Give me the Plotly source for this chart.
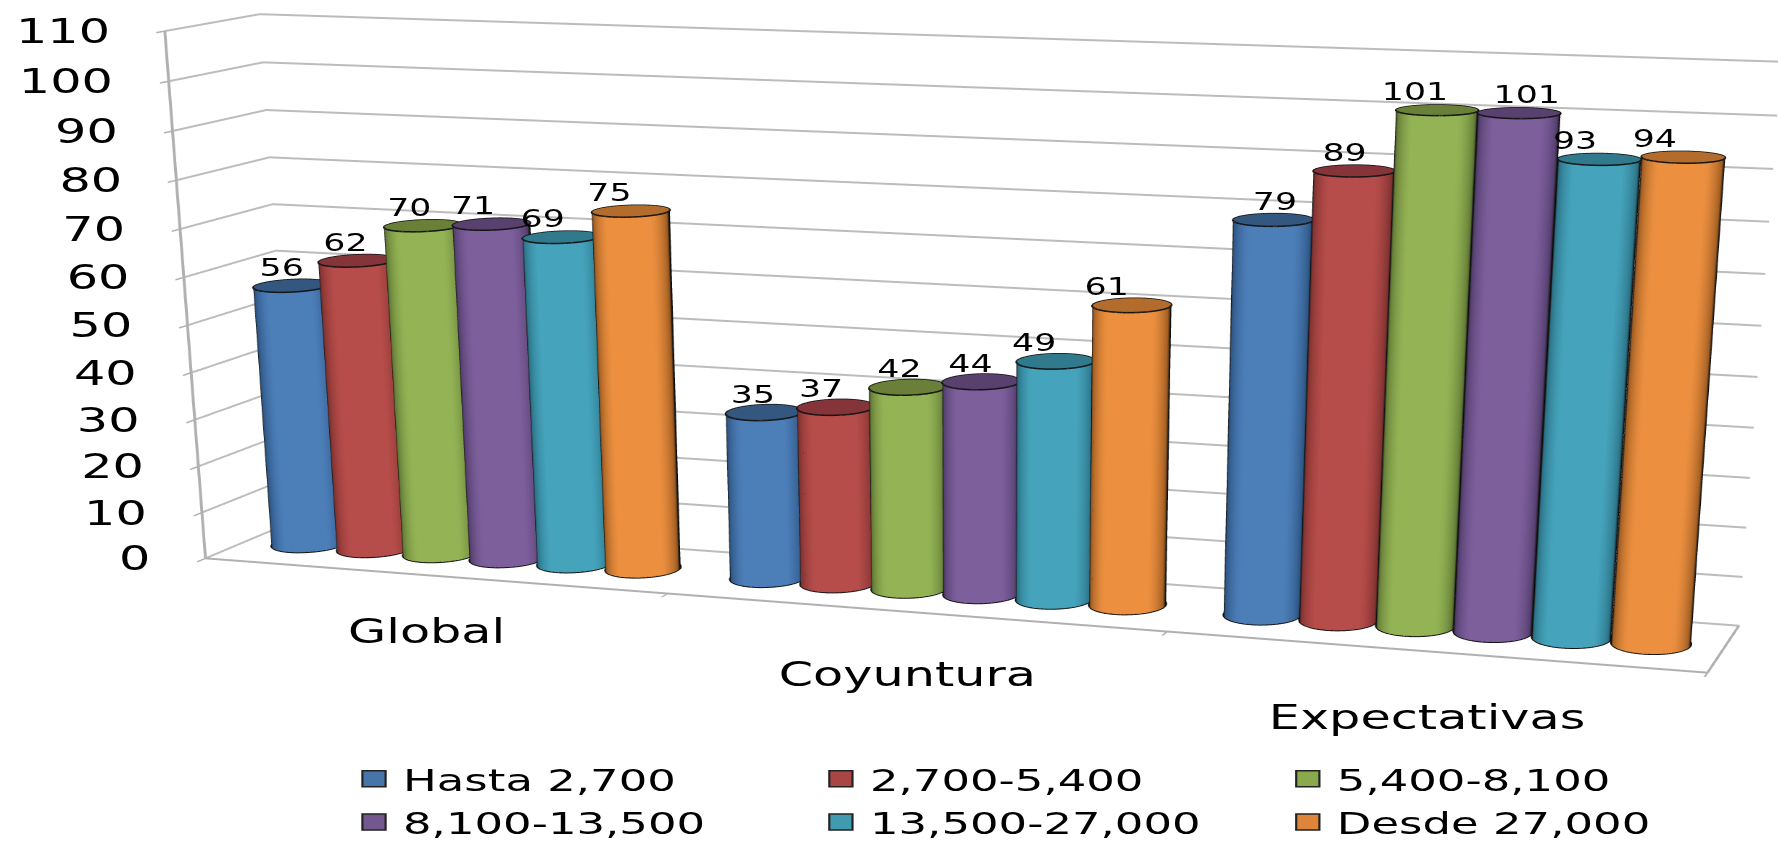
import numpy as np
import plotly.graph_objects as go

# Chart data
CATEGORIES = ["Global", "Coyuntura", "Expectativas"]
SERIES = ["Hasta 2,700", "2,700-5,400", "5,400-8,100", "8,100-13,500", "13,500-27,000", "Desde 27,000"]
HASTA_2700 = [56, 35, 79]
DE_2700_5400 = [62, 37, 89]
DE_5400_8100 = [70, 42, 101]
DE_8100_13500 = [71, 44, 101]
DE_13500_27000 = [69, 49, 93]
DESDE_27000 = [75, 61, 94]
VALUES = [HASTA_2700, DE_2700_5400, DE_5400_8100, DE_8100_13500, DE_13500_27000, DESDE_27000]
Z_TICKS = list(range(0, 111, 10))

# Colours: face highlight, face edge, cap
FACE = ["#4c7eb8", "#b64d4a", "#94b355", "#7d5f9c", "#45a4bc", "#ec9040"]
EDGE = ["#2c5482", "#7e312f", "#5f7734", "#513c6b", "#2a6f83", "#9c5a20"]
CAP = ["#33577f", "#85343a", "#6a8038", "#58406f", "#31798d", "#b36c2c"]
SWATCH = ["#4774a9", "#a74643", "#8aa84c", "#73588f", "#409ab0", "#dc853b"]

# Page layout: the figure is laid out wider and taller than the window, then placed with CSS
STRETCH = 1.45
FIG_W = 1360
FIG_H = 2357
OFFSET_Y = 757
SIDE_MARGIN = 80

# Scene proportions and view
ASPECT = dict(x=3.0, y=0.38, z=1.53)
DIST = 7.82
YAW = np.radians(18.3)
TILT = np.radians(15.5)
LOOK = dict(x=0.083, y=0.0, z=-0.265)
EYE = dict(
    x=LOOK["x"] + DIST * np.sin(YAW) * np.cos(TILT),
    y=LOOK["y"] - DIST * np.cos(YAW) * np.cos(TILT),
    z=LOOK["z"] + DIST * np.sin(TILT),
)

BAR_D = 0.147
GROUP_PAD = 0.059
ROUNDNESS = 1.2
# Horizontal nudge of each value label, by series then category
LABEL_SHIFT = [
    [-7, -8, 1],
    [-8, -10, -6],
    [-9, -6, -15],
    [-12, -7, 5],
    [-13, -15, -17],
    [-15, -17, -19],
]
CATEGORY_SHIFT = [-55, -62, -65]
N_SIDES = 64


def page_to_paper(px, py):
    plot_w = FIG_W - 2 * SIDE_MARGIN
    return (px / STRETCH - SIDE_MARGIN) / plot_w, 1 - (py + OFFSET_Y) / FIG_H


def blend(stops, t):
    """Piecewise colour ramp; stops are (position, '#rrggbb')."""
    pos = [p for p, _ in stops]
    rgb = np.array([[int(h[i:i + 2], 16) for i in (1, 3, 5)] for _, h in stops], dtype=float)
    return "rgb({:.0f},{:.0f},{:.0f})".format(*[np.interp(t, pos, rgb[:, k]) for k in range(3)])


fig = go.Figure()
theta = np.linspace(0, 2 * np.pi, N_SIDES + 1)
radius_x = (BAR_D / 2) * 0.98
radius_y = radius_x * ROUNDNESS / ASPECT["y"]
annotations = []

for s, (name, vals) in enumerate(zip(SERIES, VALUES)):
    stops = [(0, "#000000"), (0.2, "#181818"), (0.32, EDGE[s]), (0.82, FACE[s]), (1, FACE[s])]
    xs, ys, zs, colors, ii, jj, kk = [], [], [], [], [], [], []
    rim_x, rim_y, rim_z = [], [], []
    for c, value in enumerate(vals):
        cx = c + GROUP_PAD + BAR_D * (s + 0.5)
        cy = 0.5
        px = cx + radius_x * np.cos(theta)
        py = cy + radius_y * np.sin(theta)

        # Side of the cylinder, shaded by how directly it faces the viewer
        world_x = (cx - 1.5) / 3 * ASPECT["x"]
        to_eye = np.array([EYE["x"] - world_x, EYE["y"]])
        to_eye = to_eye / np.hypot(*to_eye)
        facing = np.clip(np.cos(theta) * to_eye[0] + np.sin(theta) * to_eye[1], 0, 1)
        base = len(xs)
        for a in range(theta.size):
            col = blend(stops, facing[a])
            xs += [px[a], px[a]]
            ys += [py[a], py[a]]
            zs += [0, value]
            colors += [col, col]
        for a in range(N_SIDES):
            p0 = base + 2 * a
            ii += [p0, p0 + 1]
            jj += [p0 + 2, p0 + 2]
            kk += [p0 + 1, p0 + 3]

        # Cap as a triangle fan
        hub = len(xs)
        xs.append(cx)
        ys.append(cy)
        zs.append(value)
        colors.append(CAP[s])
        for a in range(theta.size):
            xs.append(px[a])
            ys.append(py[a])
            zs.append(value)
            colors.append(CAP[s])
        for a in range(N_SIDES):
            ii.append(hub)
            jj.append(hub + 1 + a)
            kk.append(hub + 2 + a)

        # Dark rim lines, top and foot
        rim_x += list(px) + [None] + list(px) + [None]
        rim_y += list(py) + [None] + list(py) + [None]
        rim_z += [value] * theta.size + [None] + [0] * theta.size + [None]

        annotations.append(dict(
            x=cx, y=cy, z=value, text=str(value), showarrow=False,
            font=dict(family="DejaVu Sans", size=24, color="black"),
            xshift=LABEL_SHIFT[s][c], yshift=18,
        ))

    fig.add_trace(go.Mesh3d(
        x=xs, y=ys, z=zs, i=ii, j=jj, k=kk, vertexcolor=colors,
        lighting=dict(ambient=1, diffuse=0, specular=0, fresnel=0, roughness=1),
        flatshading=False, hoverinfo="skip", showlegend=False,
    ))
    fig.add_trace(go.Scatter3d(
        x=rim_x, y=rim_y, z=rim_z, mode="lines",
        line=dict(color="#141414", width=3), showlegend=False, hoverinfo="skip",
    ))

    # Legend entry
    fig.add_trace(go.Scatter3d(
        x=[None], y=[None], z=[None], mode="markers", name=name,
        marker=dict(symbol="square", size=17, color=SWATCH[s], line=dict(color="#222222", width=1.5)),
        hoverinfo="skip",
    ))

# Category names under the front edge
for c, name in enumerate(CATEGORIES):
    annotations.append(dict(
        x=c + 0.5, y=0, z=0, text=name, showarrow=False,
        font=dict(family="DejaVu Sans", size=34, color="black"),
        yshift=CATEGORY_SHIFT[c], xshift=-4,
    ))

# Value scale labels beside the front-left edge
for t in Z_TICKS:
    annotations.append(dict(
        x=0, y=0, z=t, text=str(t), showarrow=False, xanchor="right",
        font=dict(family="DejaVu Sans", size=34, color="black"),
        xshift=-36,
    ))

leg_x, leg_y = page_to_paper(345, 752)
fig.update_layout(
    width=FIG_W, height=FIG_H,
    margin=dict(l=SIDE_MARGIN, r=SIDE_MARGIN, t=0, b=0, autoexpand=False),
    paper_bgcolor="white",
    hovermode=False,
    font=dict(family="DejaVu Sans", color="black"),
    legend=dict(
        orientation="h", x=leg_x, y=leg_y, xanchor="left", yanchor="top",
        entrywidth=277, entrywidthmode="pixels", font=dict(size=31),
        bgcolor="rgba(0,0,0,0)", traceorder="normal",
    ),
    scene=dict(
        domain=dict(x=[0, 1], y=[0, 1]),
        aspectmode="manual", aspectratio=ASPECT,
        camera=dict(
            projection=dict(type="perspective"),
            up=dict(x=0, y=0, z=1), center=LOOK, eye=EYE,
        ),
        annotations=annotations,
        xaxis=dict(
            range=[0, 3], tickvals=[0, 1, 2, 3], ticktext=["", "", "", ""], showgrid=False,
            showline=True, linecolor="#b0b0b0", linewidth=4, ticks="outside", ticklen=26,
            tickcolor="#b0b0b0", tickwidth=3, zeroline=False, showbackground=False,
            title=dict(text=""), showspikes=False,
        ),
        yaxis=dict(
            range=[0, 1], showticklabels=False, showgrid=False, ticks="",
            showline=True, linecolor="#b0b0b0", linewidth=4, zeroline=False,
            showbackground=False, title=dict(text=""), showspikes=False,
        ),
        zaxis=dict(
            range=[0, 110], tickvals=Z_TICKS, showticklabels=False,
            showgrid=True, gridcolor="#bcbcbc", gridwidth=4,
            showline=True, linecolor="#b0b0b0", linewidth=4,
            ticks="outside", ticklen=30, tickcolor="#b0b0b0", tickwidth=3,
            zeroline=False, showbackground=False, title=dict(text=""), showspikes=False,
        ),
    ),
)

# Place the oversized figure on the page and widen it
PLACE = f"""
var gd = document.getElementById('{{plot_id}}');
document.documentElement.style.overflow = 'hidden';
document.body.style.overflow = 'hidden';
document.body.style.margin = '0';
gd.style.transformOrigin = '0 0';
gd.style.transform = 'translateY(-{OFFSET_Y}px) scaleX({STRETCH})';
"""
fig.write_html("out.html", post_script=PLACE, config=dict(displayModeBar=False))
